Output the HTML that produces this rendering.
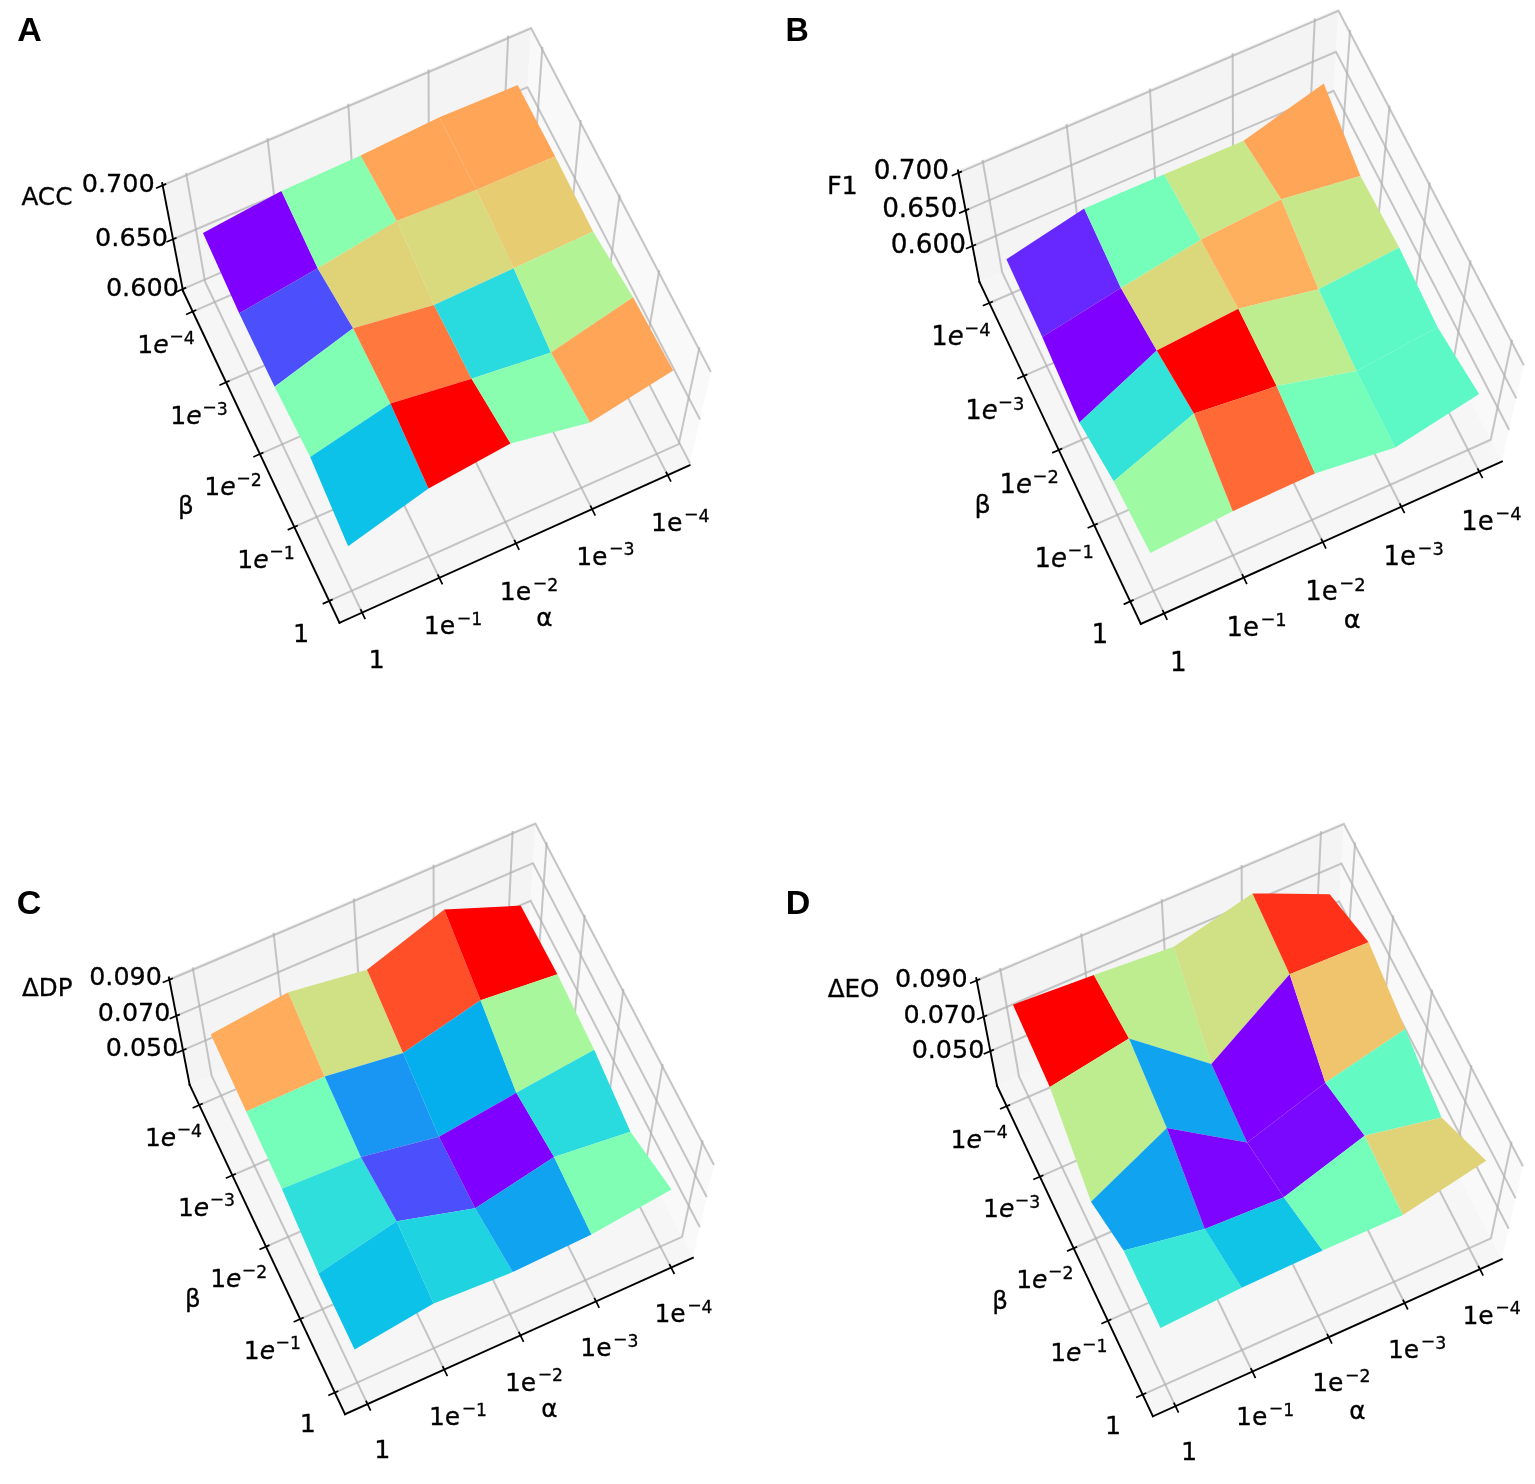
<!DOCTYPE html>
<html lang="en">
<head>
<meta charset="utf-8">
<title>Hyperparameter sensitivity: ACC, F1, ΔDP, ΔEO</title>
<style>
html,body{margin:0;padding:0;background:#fff;}
body{width:1535px;height:1484px;overflow:hidden;}
svg{display:block;}
</style>
</head>
<body>
<svg width="1535" height="1484" viewBox="0 0 1535 1484">
<rect width="1535" height="1484" fill="#fff"/>
<g id="panel-A">
<polygon points="339.49,622.75 689.63,465.27 523.97,144.01 183.04,291.11" fill="#f6f6f6"/>
<polygon points="183.04,291.11 523.97,144.01 531.32,25.74 162.18,183.06" fill="#f4f4f4"/>
<polygon points="523.97,144.01 689.63,465.27 711.29,369.82 531.32,25.74" fill="#f9f9f9"/>
<g fill="none" stroke="#b0b0b0" stroke-opacity="0.72" stroke-width="2" stroke-linejoin="miter">
<polyline points="362.11,612.57 205.05,281.62 186.04,172.89"/>
<polyline points="329.21,600.95 678.75,444.17 699.44,347.16"/>
<polyline points="439.31,577.85 280.2,249.19 267.48,138.18"/>
<polyline points="294.3,526.96 641.8,372.52 659.23,270.28"/>
<polyline points="515.97,543.37 354.83,216.99 348.31,103.73"/>
<polyline points="259.92,454.08 605.4,301.92 619.66,194.63"/>
<polyline points="592.09,509.13 428.96,185 428.55,69.54"/>
<polyline points="226.05,382.29 569.53,232.36 580.72,120.18"/>
<polyline points="667.68,475.14 502.59,153.23 508.2,35.59"/>
<polyline points="192.68,311.55 534.18,163.81 542.39,46.9"/>
<polyline points="182.65,289.12 524.11,141.82 690.03,463.5"/>
<polyline points="173.02,239.24 527.5,87.19 700.02,419.49"/>
<polyline points="162.63,185.39 531.16,28.29 710.82,371.89"/>
</g>
<g fill="none" stroke="#000" stroke-width="1.9" stroke-linecap="square">
<polyline points="339.49,622.75 689.63,465.27"/>
<polyline points="339.49,622.75 183.04,291.11"/>
<polyline points="183.04,291.11 162.18,183.06"/>
</g>
<g fill="none" stroke="#000" stroke-width="1.7" stroke-linecap="butt">
<line x1="365.19" y1="619.08" x2="360.48" y2="609.14"/>
<line x1="322.64" y1="603.9" x2="332.67" y2="599.4"/>
<line x1="442.45" y1="584.33" x2="437.66" y2="574.43"/>
<line x1="287.72" y1="529.89" x2="297.77" y2="525.42"/>
<line x1="519.16" y1="549.83" x2="514.29" y2="539.96"/>
<line x1="253.33" y1="456.99" x2="263.4" y2="452.55"/>
<line x1="595.33" y1="515.57" x2="590.38" y2="505.74"/>
<line x1="219.45" y1="385.17" x2="229.53" y2="380.77"/>
<line x1="670.97" y1="481.54" x2="665.95" y2="471.76"/>
<line x1="186.07" y1="314.41" x2="196.17" y2="310.04"/>
<line x1="176.04" y1="291.97" x2="186.14" y2="287.61"/>
<line x1="166.41" y1="242.08" x2="176.52" y2="237.74"/>
<line x1="156.01" y1="188.22" x2="166.12" y2="183.9"/>
</g>
<g stroke="none" shape-rendering="geometricPrecision">
<polygon points="202.98,232.94 281.45,190.94 317.68,268.3 239.19,313.32" fill="#8000ff"/>
<polygon points="281.45,190.94 360.6,155.62 396.81,220.98 317.68,268.3" fill="#8afeaf"/>
<polygon points="360.6,155.62 439.33,117.3 476.37,189.68 396.81,220.98" fill="#ffa558"/>
<polygon points="439.33,117.3 517.65,85.11 555.2,156.45 476.37,189.68" fill="#ffa558"/>
<polygon points="239.19,313.32 317.68,268.3 353.12,328.35 274.61,386.68" fill="#4c4ffc"/>
<polygon points="317.68,268.3 396.81,220.98 434.03,304.9 353.12,328.35" fill="#e0d377"/>
<polygon points="396.81,220.98 476.37,189.68 513.72,268.37 434.03,304.9" fill="#d9d97d"/>
<polygon points="476.37,189.68 555.2,156.45 593.08,231.57 513.72,268.37" fill="#e8cc72"/>
<polygon points="274.61,386.68 353.12,328.35 390.45,403.6 310.2,457.01" fill="#80ffb4"/>
<polygon points="353.12,328.35 434.03,304.9 471.62,378.81 390.45,403.6" fill="#ff783e"/>
<polygon points="434.03,304.9 513.72,268.37 550.95,352.42 471.62,378.81" fill="#29dbde"/>
<polygon points="513.72,268.37 593.08,231.57 633.07,297.34 550.95,352.42" fill="#b2f396"/>
<polygon points="310.2,457.01 390.45,403.6 428.52,488.4 348.13,546.3" fill="#0dc2e8"/>
<polygon points="390.45,403.6 471.62,378.81 510.62,443.42 428.52,488.4" fill="#ff0000"/>
<polygon points="471.62,378.81 550.95,352.42 590.1,422.54 510.62,443.42" fill="#8afeaf"/>
<polygon points="550.95,352.42 633.07,297.34 673.21,370.4 590.1,422.54" fill="#ffa558"/>
</g>
<g font-family="'DejaVu Sans', 'Liberation Sans', sans-serif" font-size="25.5" fill="#000" stroke="#000" stroke-width="0.3" stroke-linejoin="round" text-anchor="middle">
<text x="376.5" y="668.1">1</text>
<text x="453" y="634.2"><tspan font-size="25.12">1e</tspan><tspan font-size="17.33" dx="1.5" dy="-10.68">−</tspan><tspan font-size="17.33" dy="1.5">1</tspan></text>
<text x="529" y="599.8"><tspan font-size="25.12">1e</tspan><tspan font-size="17.33" dx="1.5" dy="-10.68">−</tspan><tspan font-size="17.33" dy="1.5">2</tspan></text>
<text x="605.4" y="564.6"><tspan font-size="25.12">1e</tspan><tspan font-size="17.33" dx="1.5" dy="-10.68">−</tspan><tspan font-size="17.33" dy="1.5">3</tspan></text>
<text x="680.2" y="530.7"><tspan font-size="25.12">1e</tspan><tspan font-size="17.33" dx="1.5" dy="-10.68">−</tspan><tspan font-size="17.33" dy="1.5">4</tspan></text>
<text x="301.2" y="641.6">1</text>
<text x="266.1" y="567.7"><tspan font-size="25.12">1<tspan font-style="italic">e</tspan></tspan><tspan font-size="17.33" dx="0.5" dy="-10.68">−</tspan><tspan font-size="17.33" dy="1.5">1</tspan></text>
<text x="233" y="495"><tspan font-size="25.12">1<tspan font-style="italic">e</tspan></tspan><tspan font-size="17.33" dx="0.5" dy="-10.68">−</tspan><tspan font-size="17.33" dy="1.5">2</tspan></text>
<text x="199" y="423.9"><tspan font-size="25.12">1<tspan font-style="italic">e</tspan></tspan><tspan font-size="17.33" dx="0.5" dy="-10.68">−</tspan><tspan font-size="17.33" dy="1.5">3</tspan></text>
<text x="166" y="353.1"><tspan font-size="25.12">1<tspan font-style="italic">e</tspan></tspan><tspan font-size="17.33" dx="0.5" dy="-10.68">−</tspan><tspan font-size="17.33" dy="1.5">4</tspan></text>
<text x="142.4" y="295.8">0.600</text>
<text x="131.6" y="246.3">0.650</text>
<text x="118.3" y="191.5">0.700</text>
</g>
<g font-family="'DejaVu Sans', 'Liberation Sans', sans-serif" font-size="24.73" fill="#000" stroke="#000" stroke-width="0.3" stroke-linejoin="round" text-anchor="middle">
<text x="544.5" y="625.8">α</text>
<text x="186" y="513.8">β</text>
<text x="46.9" y="204.6">ACC</text>
</g>
<text transform="translate(17.3 40.8) scale(1 1)" font-family="'Liberation Sans', Arial, Helvetica, sans-serif" font-weight="bold" font-size="34" fill="#000">A</text>
</g>
<g id="panel-B">
<polygon points="1140.8,623.92 1501.92,461.51 1331.07,130.17 979.44,281.89" fill="#f6f6f6"/>
<polygon points="979.44,281.89 1331.07,130.17 1338.65,8.19 957.93,170.44" fill="#f4f4f4"/>
<polygon points="1331.07,130.17 1501.92,461.51 1524.27,363.07 1338.65,8.19" fill="#f9f9f9"/>
<g fill="none" stroke="#b0b0b0" stroke-opacity="0.72" stroke-width="2" stroke-linejoin="miter">
<polyline points="1164.13,613.43 1002.15,272.09 982.54,159.96"/>
<polyline points="1130.2,601.45 1490.7,439.74 1512.05,339.7"/>
<polyline points="1243.76,577.62 1079.65,238.65 1066.53,124.16"/>
<polyline points="1094.2,525.14 1452.6,365.85 1470.57,260.41"/>
<polyline points="1322.82,542.06 1156.63,205.44 1149.9,88.63"/>
<polyline points="1058.74,449.97 1415.05,293.04 1429.76,182.38"/>
<polyline points="1401.33,506.75 1233.08,172.45 1232.65,53.36"/>
<polyline points="1023.8,375.92 1378.06,221.3 1389.6,105.59"/>
<polyline points="1479.29,471.69 1309.02,139.68 1314.8,18.35"/>
<polyline points="989.39,302.97 1341.6,150.6 1350.06,30.01"/>
<polyline points="972.51,245.97 1333.52,90.82 1509.12,429.81"/>
<polyline points="965.63,210.36 1335.94,51.84 1516.26,398.36"/>
<polyline points="958.4,172.85 1338.49,10.83 1523.78,365.2"/>
</g>
<g fill="none" stroke="#000" stroke-width="1.9" stroke-linecap="square">
<polyline points="1140.8,623.92 1501.92,461.51"/>
<polyline points="1140.8,623.92 979.44,281.89"/>
<polyline points="979.44,281.89 957.93,170.44"/>
</g>
<g fill="none" stroke="#000" stroke-width="1.7" stroke-linecap="butt">
<line x1="1167.22" y1="619.94" x2="1162.5" y2="610"/>
<line x1="1123.63" y1="604.4" x2="1133.66" y2="599.89"/>
<line x1="1246.89" y1="584.1" x2="1242.1" y2="574.2"/>
<line x1="1087.62" y1="528.06" x2="1097.67" y2="523.6"/>
<line x1="1326.01" y1="548.52" x2="1321.14" y2="538.65"/>
<line x1="1052.15" y1="452.87" x2="1062.21" y2="448.44"/>
<line x1="1404.57" y1="513.18" x2="1399.62" y2="503.36"/>
<line x1="1017.21" y1="378.8" x2="1027.29" y2="374.4"/>
<line x1="1482.57" y1="478.09" x2="1477.56" y2="468.31"/>
<line x1="982.78" y1="305.83" x2="992.87" y2="301.46"/>
<line x1="965.89" y1="248.81" x2="976" y2="244.47"/>
<line x1="959.02" y1="213.19" x2="969.13" y2="208.86"/>
<line x1="951.77" y1="175.68" x2="961.89" y2="171.36"/>
</g>
<g stroke="none" shape-rendering="geometricPrecision">
<polygon points="1006.38,259.34 1084.2,208.48 1120.91,287.96 1042.28,337.08" fill="#6628fe"/>
<polygon points="1084.2,208.48 1164.22,174.36 1200.75,239.82 1120.91,287.96" fill="#75feba"/>
<polygon points="1164.22,174.36 1243.64,140.7 1281.31,199.37 1200.75,239.82" fill="#c7e789"/>
<polygon points="1243.64,140.7 1323.78,83.39 1360.5,175.91 1281.31,199.37" fill="#ffa558"/>
<polygon points="1042.28,337.08 1120.91,287.96 1156.8,350.51 1079.45,422.41" fill="#8000ff"/>
<polygon points="1120.91,287.96 1200.75,239.82 1238.31,308.8 1156.8,350.51" fill="#dbd77b"/>
<polygon points="1200.75,239.82 1281.31,199.37 1318.64,289.3 1238.31,308.8" fill="#ffb05f"/>
<polygon points="1281.31,199.37 1360.5,175.91 1399.18,247.56 1318.64,289.3" fill="#c7e789"/>
<polygon points="1079.45,422.41 1156.8,350.51 1193.93,413.42 1113.68,481.24" fill="#33e3d9"/>
<polygon points="1156.8,350.51 1238.31,308.8 1276.65,386.09 1193.93,413.42" fill="#ff0000"/>
<polygon points="1238.31,308.8 1318.64,289.3 1356.45,371 1276.65,386.09" fill="#bded8f"/>
<polygon points="1318.64,289.3 1399.18,247.56 1437.62,327.15 1356.45,371" fill="#5cf9c7"/>
<polygon points="1113.68,481.24 1193.93,413.42 1232.75,511.2 1150.36,552.99" fill="#9efaa3"/>
<polygon points="1193.93,413.42 1276.65,386.09 1315.01,473.41 1232.75,511.2" fill="#ff6935"/>
<polygon points="1276.65,386.09 1356.45,371 1395.27,447.43 1315.01,473.41" fill="#75feba"/>
<polygon points="1356.45,371 1437.62,327.15 1479.07,393.91 1395.27,447.43" fill="#5cf9c7"/>
</g>
<g font-family="'DejaVu Sans', 'Liberation Sans', sans-serif" font-size="26.3" fill="#000" stroke="#000" stroke-width="0.3" stroke-linejoin="round" text-anchor="middle">
<text x="1178.3" y="670.9">1</text>
<text x="1256.6" y="635.7"><tspan font-size="25.91">1e</tspan><tspan font-size="17.87" dx="1.5" dy="-10.97">−</tspan><tspan font-size="17.87" dy="1.5">1</tspan></text>
<text x="1335.5" y="600.1"><tspan font-size="25.91">1e</tspan><tspan font-size="17.87" dx="1.5" dy="-10.97">−</tspan><tspan font-size="17.87" dy="1.5">2</tspan></text>
<text x="1413.7" y="564.6"><tspan font-size="25.91">1e</tspan><tspan font-size="17.87" dx="1.5" dy="-10.97">−</tspan><tspan font-size="17.87" dy="1.5">3</tspan></text>
<text x="1491.5" y="529.8"><tspan font-size="25.91">1e</tspan><tspan font-size="17.87" dx="1.5" dy="-10.97">−</tspan><tspan font-size="17.87" dy="1.5">4</tspan></text>
<text x="1099.8" y="642.7">1</text>
<text x="1064.2" y="567.2"><tspan font-size="25.91">1<tspan font-style="italic">e</tspan></tspan><tspan font-size="17.87" dx="0.5" dy="-10.97">−</tspan><tspan font-size="17.87" dy="1.5">1</tspan></text>
<text x="1029.2" y="492.6"><tspan font-size="25.91">1<tspan font-style="italic">e</tspan></tspan><tspan font-size="17.87" dx="0.5" dy="-10.97">−</tspan><tspan font-size="17.87" dy="1.5">2</tspan></text>
<text x="994.8" y="419.4"><tspan font-size="25.91">1<tspan font-style="italic">e</tspan></tspan><tspan font-size="17.87" dx="0.5" dy="-10.97">−</tspan><tspan font-size="17.87" dy="1.5">3</tspan></text>
<text x="960.9" y="345.3"><tspan font-size="25.91">1<tspan font-style="italic">e</tspan></tspan><tspan font-size="17.87" dx="0.5" dy="-10.97">−</tspan><tspan font-size="17.87" dy="1.5">4</tspan></text>
<text x="928.4" y="253.3">0.600</text>
<text x="919.8" y="216.8">0.650</text>
<text x="911.4" y="179.3">0.700</text>
</g>
<g font-family="'DejaVu Sans', 'Liberation Sans', sans-serif" font-size="25.51" fill="#000" stroke="#000" stroke-width="0.3" stroke-linejoin="round" text-anchor="middle">
<text x="1352.2" y="627.5">α</text>
<text x="982.6" y="512.5">β</text>
<text x="842.4" y="193.8">F1</text>
</g>
<text transform="translate(785.6 40.8) scale(0.95 1)" font-family="'Liberation Sans', Arial, Helvetica, sans-serif" font-weight="bold" font-size="34" fill="#000">B</text>
</g>
<g id="panel-C">
<polygon points="345.07,1414.23 692.92,1257.79 528.35,938.63 189.65,1084.78" fill="#f6f6f6"/>
<polygon points="189.65,1084.78 528.35,938.63 535.65,821.14 168.92,977.43" fill="#f4f4f4"/>
<polygon points="528.35,938.63 692.92,1257.79 714.44,1162.97 535.65,821.14" fill="#f9f9f9"/>
<g fill="none" stroke="#b0b0b0" stroke-opacity="0.72" stroke-width="2" stroke-linejoin="miter">
<polyline points="367.54,1404.13 211.52,1075.34 192.63,967.32"/>
<polyline points="334.86,1392.58 682.11,1236.82 702.67,1140.46"/>
<polyline points="444.24,1369.63 286.17,1043.13 273.53,932.85"/>
<polyline points="300.18,1319.08 645.4,1165.64 662.72,1064.08"/>
<polyline points="520.4,1335.38 360.32,1011.13 353.83,898.62"/>
<polyline points="266.03,1246.68 609.24,1095.51 623.41,988.93"/>
<polyline points="596.02,1301.37 433.96,979.36 433.55,864.65"/>
<polyline points="232.38,1175.35 573.61,1026.41 584.72,914.96"/>
<polyline points="671.11,1267.59 507.1,947.8 512.68,830.93"/>
<polyline points="199.22,1105.08 538.49,958.31 546.64,842.16"/>
<polyline points="182.97,1050.17 530.7,900.73 699.85,1227.26"/>
<polyline points="176.35,1015.87 533.03,863.18 706.72,1196.96"/>
<polyline points="169.37,979.75 535.49,823.68 713.97,1165.02"/>
</g>
<g fill="none" stroke="#000" stroke-width="1.9" stroke-linecap="square">
<polyline points="345.07,1414.23 692.92,1257.79"/>
<polyline points="345.07,1414.23 189.65,1084.78"/>
<polyline points="189.65,1084.78 168.92,977.43"/>
</g>
<g fill="none" stroke="#000" stroke-width="1.7" stroke-linecap="butt">
<line x1="370.63" y1="1410.63" x2="365.91" y2="1400.69"/>
<line x1="328.29" y1="1395.53" x2="338.32" y2="1391.03"/>
<line x1="447.38" y1="1376.11" x2="442.59" y2="1366.21"/>
<line x1="293.6" y1="1322" x2="303.65" y2="1317.54"/>
<line x1="523.59" y1="1341.83" x2="518.72" y2="1331.97"/>
<line x1="259.44" y1="1249.58" x2="269.5" y2="1245.15"/>
<line x1="599.26" y1="1307.8" x2="594.31" y2="1297.97"/>
<line x1="225.78" y1="1178.23" x2="235.86" y2="1173.83"/>
<line x1="674.4" y1="1274" x2="669.38" y2="1264.21"/>
<line x1="192.62" y1="1107.94" x2="202.71" y2="1103.57"/>
<line x1="176.35" y1="1053.02" x2="186.46" y2="1048.67"/>
<line x1="169.73" y1="1018.71" x2="179.84" y2="1014.38"/>
<line x1="162.75" y1="982.57" x2="172.87" y2="978.26"/>
</g>
<g stroke="none" shape-rendering="geometricPrecision">
<polygon points="210.68,1034.17 288.19,992.37 324.68,1076.58 246.15,1111.52" fill="#ffac5c"/>
<polygon points="288.19,992.37 367.04,969.72 403.05,1053.1 324.68,1076.58" fill="#cfe184"/>
<polygon points="367.04,969.72 444.27,909.5 480.57,1000.21 403.05,1053.1" fill="#ff4f28"/>
<polygon points="444.27,909.5 520.65,905.6 557.41,974.22 480.57,1000.21" fill="#ff0000"/>
<polygon points="246.15,1111.52 324.68,1076.58 360.87,1156.9 281.83,1188.82" fill="#75feba"/>
<polygon points="324.68,1076.58 403.05,1053.1 439,1136.8 360.87,1156.9" fill="#1996f3"/>
<polygon points="403.05,1053.1 480.57,1000.21 516.32,1092.8 439,1136.8" fill="#05afed"/>
<polygon points="480.57,1000.21 557.41,974.22 594.18,1049.8 516.32,1092.8" fill="#a8f79c"/>
<polygon points="281.83,1188.82 360.87,1156.9 396.61,1221.31 318.58,1273.47" fill="#2edfdb"/>
<polygon points="360.87,1156.9 439,1136.8 475.21,1208.3 396.61,1221.31" fill="#4c4ffc"/>
<polygon points="439,1136.8 516.32,1092.8 554.07,1157.07 475.21,1208.3" fill="#8000ff"/>
<polygon points="516.32,1092.8 594.18,1049.8 630.47,1131.64 554.07,1157.07" fill="#29dbde"/>
<polygon points="318.58,1273.47 396.61,1221.31 433.63,1303.4 354.58,1349.49" fill="#0dc2e8"/>
<polygon points="396.61,1221.31 475.21,1208.3 512.68,1272.09 433.63,1303.4" fill="#1fd3e1"/>
<polygon points="475.21,1208.3 554.07,1157.07 591.49,1234.42 512.68,1272.09" fill="#0fa3f0"/>
<polygon points="554.07,1157.07 630.47,1131.64 671.52,1189.54 591.49,1234.42" fill="#80ffb4"/>
</g>
<g font-family="'DejaVu Sans', 'Liberation Sans', sans-serif" font-size="25.33" fill="#000" stroke="#000" stroke-width="0.3" stroke-linejoin="round" text-anchor="middle">
<text x="382.3" y="1458.3">1</text>
<text x="458" y="1424.7"><tspan font-size="24.95">1e</tspan><tspan font-size="17.22" dx="1.5" dy="-10.62">−</tspan><tspan font-size="17.22" dy="1.5">1</tspan></text>
<text x="534" y="1390.5"><tspan font-size="24.95">1e</tspan><tspan font-size="17.22" dx="1.5" dy="-10.62">−</tspan><tspan font-size="17.22" dy="1.5">2</tspan></text>
<text x="609.4" y="1355.8"><tspan font-size="24.95">1e</tspan><tspan font-size="17.22" dx="1.5" dy="-10.62">−</tspan><tspan font-size="17.22" dy="1.5">3</tspan></text>
<text x="683.5" y="1321.8"><tspan font-size="24.95">1e</tspan><tspan font-size="17.22" dx="1.5" dy="-10.62">−</tspan><tspan font-size="17.22" dy="1.5">4</tspan></text>
<text x="307.8" y="1431.8">1</text>
<text x="272.4" y="1358.6"><tspan font-size="24.95">1<tspan font-style="italic">e</tspan></tspan><tspan font-size="17.22" dx="0.5" dy="-10.62">−</tspan><tspan font-size="17.22" dy="1.5">1</tspan></text>
<text x="238.7" y="1286.7"><tspan font-size="24.95">1<tspan font-style="italic">e</tspan></tspan><tspan font-size="17.22" dx="0.5" dy="-10.62">−</tspan><tspan font-size="17.22" dy="1.5">2</tspan></text>
<text x="206.5" y="1215.5"><tspan font-size="24.95">1<tspan font-style="italic">e</tspan></tspan><tspan font-size="17.22" dx="0.5" dy="-10.62">−</tspan><tspan font-size="17.22" dy="1.5">3</tspan></text>
<text x="173.5" y="1146"><tspan font-size="24.95">1<tspan font-style="italic">e</tspan></tspan><tspan font-size="17.22" dx="0.5" dy="-10.62">−</tspan><tspan font-size="17.22" dy="1.5">4</tspan></text>
<text x="142" y="1056.3">0.050</text>
<text x="134" y="1021.1">0.070</text>
<text x="125.5" y="984.6">0.090</text>
</g>
<g font-family="'DejaVu Sans', 'Liberation Sans', sans-serif" font-size="24.57" fill="#000" stroke="#000" stroke-width="0.3" stroke-linejoin="round" text-anchor="middle">
<text x="549.4" y="1417.2">α</text>
<text x="192.8" y="1307.4">β</text>
<text x="47.2" y="996">ΔDP</text>
</g>
<text transform="translate(16.8 914.1) scale(1 1)" font-family="'Liberation Sans', Arial, Helvetica, sans-serif" font-weight="bold" font-size="34" fill="#000">C</text>
</g>
<g id="panel-D">
<polygon points="1152.92,1416.27 1501.79,1259.36 1336.73,939.26 997.04,1085.83" fill="#f6f6f6"/>
<polygon points="997.04,1085.83 1336.73,939.26 1344.06,821.42 976.25,978.17" fill="#f4f4f4"/>
<polygon points="1336.73,939.26 1501.79,1259.36 1523.38,1164.26 1344.06,821.42" fill="#f9f9f9"/>
<g fill="none" stroke="#b0b0b0" stroke-opacity="0.72" stroke-width="2" stroke-linejoin="miter">
<polyline points="1175.46,1406.13 1018.97,1076.37 1000.03,968.04"/>
<polyline points="1142.67,1394.55 1490.95,1238.33 1511.57,1141.68"/>
<polyline points="1252.38,1371.53 1093.85,1044.06 1081.17,933.46"/>
<polyline points="1107.9,1320.83 1454.14,1166.94 1471.5,1065.08"/>
<polyline points="1328.77,1337.18 1168.21,1011.97 1161.71,899.13"/>
<polyline points="1073.64,1248.22 1417.87,1096.6 1432.08,989.7"/>
<polyline points="1404.61,1303.07 1242.07,980.1 1241.66,865.06"/>
<polyline points="1039.89,1176.68 1382.13,1027.3 1393.28,915.52"/>
<polyline points="1479.93,1269.19 1315.43,948.45 1321.02,831.24"/>
<polyline points="1006.64,1106.2 1346.91,958.99 1355.08,842.5"/>
<polyline points="990.34,1051.13 1339.1,901.24 1508.74,1228.74"/>
<polyline points="983.7,1016.73 1341.44,863.59 1515.64,1198.35"/>
<polyline points="976.7,980.5 1343.9,823.97 1522.91,1166.32"/>
</g>
<g fill="none" stroke="#000" stroke-width="1.9" stroke-linecap="square">
<polyline points="1152.92,1416.27 1501.79,1259.36"/>
<polyline points="1152.92,1416.27 997.04,1085.83"/>
<polyline points="997.04,1085.83 976.25,978.17"/>
</g>
<g fill="none" stroke="#000" stroke-width="1.7" stroke-linecap="butt">
<line x1="1178.54" y1="1412.63" x2="1173.83" y2="1402.7"/>
<line x1="1136.11" y1="1397.5" x2="1146.14" y2="1393"/>
<line x1="1255.52" y1="1378.01" x2="1250.73" y2="1368.11"/>
<line x1="1101.32" y1="1323.76" x2="1111.37" y2="1319.29"/>
<line x1="1331.95" y1="1343.63" x2="1327.08" y2="1333.77"/>
<line x1="1067.05" y1="1251.12" x2="1077.12" y2="1246.68"/>
<line x1="1407.85" y1="1309.5" x2="1402.9" y2="1299.67"/>
<line x1="1033.29" y1="1179.56" x2="1043.37" y2="1175.16"/>
<line x1="1483.21" y1="1275.6" x2="1478.19" y2="1265.81"/>
<line x1="1000.03" y1="1109.06" x2="1010.13" y2="1104.69"/>
<line x1="983.72" y1="1053.98" x2="993.83" y2="1049.63"/>
<line x1="977.08" y1="1019.56" x2="987.19" y2="1015.23"/>
<line x1="970.08" y1="983.32" x2="980.2" y2="979.01"/>
</g>
<g stroke="none" shape-rendering="geometricPrecision">
<polygon points="1012.97,1004.69 1093.88,974.9 1129.03,1038.51 1049.79,1086.97" fill="#ff0000"/>
<polygon points="1093.88,974.9 1173.75,946.84 1211.35,1064.12 1129.03,1038.51" fill="#bded8f"/>
<polygon points="1173.75,946.84 1252.47,893.4 1289.63,974.19 1211.35,1064.12" fill="#cfe184"/>
<polygon points="1252.47,893.4 1329.68,894.23 1368.65,942.14 1289.63,974.19" fill="#ff3118"/>
<polygon points="1049.79,1086.97 1129.03,1038.51 1166.83,1128.04 1091.01,1201.7" fill="#bded8f"/>
<polygon points="1129.03,1038.51 1211.35,1064.12 1247.12,1142.4 1166.83,1128.04" fill="#0fa3f0"/>
<polygon points="1211.35,1064.12 1289.63,974.19 1325.34,1082.84 1247.12,1142.4" fill="#8000ff"/>
<polygon points="1289.63,974.19 1368.65,942.14 1405.31,1028.97 1325.34,1082.84" fill="#f0c46d"/>
<polygon points="1091.01,1201.7 1166.83,1128.04 1204.84,1229.1 1123.68,1250.58" fill="#0fa3f0"/>
<polygon points="1166.83,1128.04 1247.12,1142.4 1283.83,1197.31 1204.84,1229.1" fill="#7d04ff"/>
<polygon points="1247.12,1142.4 1325.34,1082.84 1364.67,1135.73 1283.83,1197.31" fill="#7a08ff"/>
<polygon points="1325.34,1082.84 1405.31,1028.97 1441.52,1117.55 1364.67,1135.73" fill="#63fbc3"/>
<polygon points="1123.68,1250.58 1204.84,1229.1 1241.65,1287.69 1160.54,1328.07" fill="#38e7d7"/>
<polygon points="1204.84,1229.1 1283.83,1197.31 1322.57,1250.53 1241.65,1287.69" fill="#0fc4e7"/>
<polygon points="1283.83,1197.31 1364.67,1135.73 1402.87,1214.9 1322.57,1250.53" fill="#75feba"/>
<polygon points="1364.67,1135.73 1441.52,1117.55 1486.23,1160.79 1402.87,1214.9" fill="#e0d377"/>
</g>
<g font-family="'DejaVu Sans', 'Liberation Sans', sans-serif" font-size="25.41" fill="#000" stroke="#000" stroke-width="0.3" stroke-linejoin="round" text-anchor="middle">
<text x="1189" y="1460.2">1</text>
<text x="1265.2" y="1425.1"><tspan font-size="25.03">1e</tspan><tspan font-size="17.27" dx="1.5" dy="-10.65">−</tspan><tspan font-size="17.27" dy="1.5">1</tspan></text>
<text x="1341.3" y="1391.2"><tspan font-size="25.03">1e</tspan><tspan font-size="17.27" dx="1.5" dy="-10.65">−</tspan><tspan font-size="17.27" dy="1.5">2</tspan></text>
<text x="1417.1" y="1358.1"><tspan font-size="25.03">1e</tspan><tspan font-size="17.27" dx="1.5" dy="-10.65">−</tspan><tspan font-size="17.27" dy="1.5">3</tspan></text>
<text x="1491.6" y="1323.5"><tspan font-size="25.03">1e</tspan><tspan font-size="17.27" dx="1.5" dy="-10.65">−</tspan><tspan font-size="17.27" dy="1.5">4</tspan></text>
<text x="1113" y="1433.8">1</text>
<text x="1078.8" y="1360.8"><tspan font-size="25.03">1<tspan font-style="italic">e</tspan></tspan><tspan font-size="17.27" dx="0.5" dy="-10.65">−</tspan><tspan font-size="17.27" dy="1.5">1</tspan></text>
<text x="1044.8" y="1287.7"><tspan font-size="25.03">1<tspan font-style="italic">e</tspan></tspan><tspan font-size="17.27" dx="0.5" dy="-10.65">−</tspan><tspan font-size="17.27" dy="1.5">2</tspan></text>
<text x="1011.6" y="1217.1"><tspan font-size="25.03">1<tspan font-style="italic">e</tspan></tspan><tspan font-size="17.27" dx="0.5" dy="-10.65">−</tspan><tspan font-size="17.27" dy="1.5">3</tspan></text>
<text x="979.2" y="1147.5"><tspan font-size="25.03">1<tspan font-style="italic">e</tspan></tspan><tspan font-size="17.27" dx="0.5" dy="-10.65">−</tspan><tspan font-size="17.27" dy="1.5">4</tspan></text>
<text x="948" y="1058.4">0.050</text>
<text x="939.8" y="1022.7">0.070</text>
<text x="931.3" y="986.7">0.090</text>
</g>
<g font-family="'DejaVu Sans', 'Liberation Sans', sans-serif" font-size="24.65" fill="#000" stroke="#000" stroke-width="0.3" stroke-linejoin="round" text-anchor="middle">
<text x="1357.4" y="1419">α</text>
<text x="1000.1" y="1308.8">β</text>
<text x="853.6" y="996.8">ΔEO</text>
</g>
<text transform="translate(785.8 914.1) scale(1 1)" font-family="'Liberation Sans', Arial, Helvetica, sans-serif" font-weight="bold" font-size="34" fill="#000">D</text>
</g>
</svg>
</body>
</html>
